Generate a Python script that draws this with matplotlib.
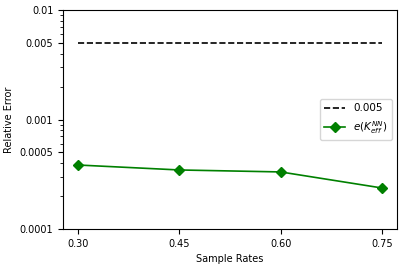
import numpy as np
import matplotlib.pyplot as plt
from matplotlib.ticker import FixedLocator, FixedFormatter

rates = [0.30, 0.45, 0.60, 0.75]
err = [3.84e-4, 3.46e-4, 3.32e-4, 2.37e-4]
thresh = [0.005, 0.005, 0.005, 0.005]
yticks = [0.0001, 0.0005, 0.001, 0.005, 0.01]
ylabels = ["0.0001", "0.0005", "0.001", "0.005", "0.01"]

plt.rcParams['font.size'] = 7
fig = plt.figure(figsize=(4.04, 2.66), dpi=100)
ax = fig.add_axes([63/404, 1 - 229/266, (397-63)/404, (229-10)/266])

ax.plot(rates, thresh, 'k--', lw=1.2, label='0.005')
ax.plot(rates, err, color='green', lw=1.2, marker='D', markersize=5, label=r'$e(K_{eff}^{NN})$')
ax.set_yscale('log')
ax.set_ylim(0.0001, 0.01)
ax.yaxis.set_major_locator(FixedLocator(yticks))
ax.yaxis.set_major_formatter(FixedFormatter(ylabels))
ax.set_xticks(rates)
ax.set_xticklabels(["0.30", "0.45", "0.60", "0.75"])
ax.set_xlabel("Sample Rates")
ax.set_ylabel("Relative Error")
ax.legend(loc='center right', fontsize=7.5)

fig.savefig("out.png", dpi=100)
